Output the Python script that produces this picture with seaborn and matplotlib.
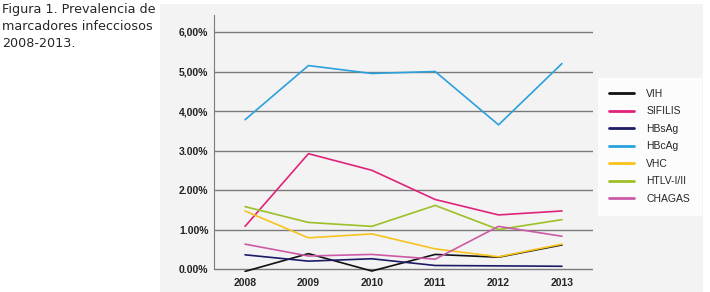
import matplotlib.pyplot as plt
import seaborn as sns
import pandas as pd

years = [2008, 2009, 2010, 2011, 2012, 2013]
vih = [-0.06, 0.39, -0.05, 0.37, 0.30, 0.61]
sifilis = [1.08, 2.92, 2.50, 1.76, 1.37, 1.47]
hbsag = [0.36, 0.20, 0.26, 0.09, 0.08, 0.07]
hbcag = [3.78, 5.15, 4.95, 5.00, 3.65, 5.20]
vhc = [1.47, 0.79, 0.89, 0.51, 0.31, 0.63]
htlv = [1.58, 1.18, 1.08, 1.61, 1.00, 1.25]
chagas = [0.63, 0.33, 0.37, 0.25, 1.08, 0.83]

names = ['VIH', 'SIFILIS', 'HBsAg', 'HBcAg', 'VHC', 'HTLV-I/II', 'CHAGAS']
colors = ['#111111', '#e0237a', '#1d1a66', '#2ba0dc', '#f9c31c', '#9cc026', '#cc5aa6']
yticks = [0, 1, 2, 3, 4, 5, 6]
ylabels = ['0.00%', '1.00%', '2.00%', '3.00%', '4,00%', '5,00%', '6,00%']

series = [vih, sifilis, hbsag, hbcag, vhc, htlv, chagas]
df = pd.DataFrame({
    'year': years * len(names),
    'value': [v for s in series for v in s],
    'marker': [n for n in names for _ in years],
})

sns.set_style('white')
plt.rcParams['font.family'] = ['Liberation Sans', 'DejaVu Sans']

fig = plt.figure(figsize=(7.1, 2.92), dpi=100)
fig.patch.set_facecolor('white')

# grey panel behind chart
bg = fig.add_axes([160 / 710, 0, 543 / 710, 1 - 4 / 292], zorder=-5)
bg.set_facecolor('#f3f3f3')
bg.set_xticks([])
bg.set_yticks([])
for s in bg.spines.values():
    s.set_visible(False)

fig.text(2 / 710, 1 - 3.5 / 292, 'Figura 1. Prevalencia de\nmarcadores infecciosos\n2008-2013.',
         family='DejaVu Sans', fontsize=9.2, va='top', ha='left', linespacing=1.38)

ax = fig.add_axes([214 / 710, 1 - 272.2 / 292, 379 / 710, 256.8 / 292])
ax.set_facecolor('none')

sns.lineplot(data=df, x='year', y='value', hue='marker', hue_order=names,
             palette=colors, linewidth=1.2, ax=ax, legend=True)

ax.set_xlim(2007.51, 2013.49)
ax.set_ylim(-0.08, 6.42)
ax.set_xticks(years)
ax.set_xticklabels([str(y) for y in years], fontsize=7.5, fontweight='bold')
ax.set_yticks(yticks)
ax.set_yticklabels(ylabels, fontsize=7.5, fontweight='bold', color='#222222')
ax.tick_params(length=0, pad=4)
ax.set_xlabel('')
ax.set_ylabel('')
for y in yticks:
    ax.axhline(y, color='#7a7a7a', lw=1.0, zorder=0)
for s in ['top', 'right', 'bottom']:
    ax.spines[s].set_visible(False)
ax.spines['left'].set_color('#7a7a7a')
ax.spines['left'].set_bounds(0, 6.42)

leg = ax.legend(loc='upper left', bbox_to_anchor=(598 / 710, 1 - 78 / 292),
                bbox_transform=fig.transFigure, frameon=True, fancybox=False,
                fontsize=7.5, handlelength=2.4, handletextpad=1.2,
                labelspacing=0.72, borderpad=1.05, borderaxespad=0)
leg.get_frame().set_facecolor('white')
leg.get_frame().set_edgecolor('white')
for line in leg.get_lines():
    line.set_linewidth(2.0)

fig.savefig('out.png', dpi=100)
